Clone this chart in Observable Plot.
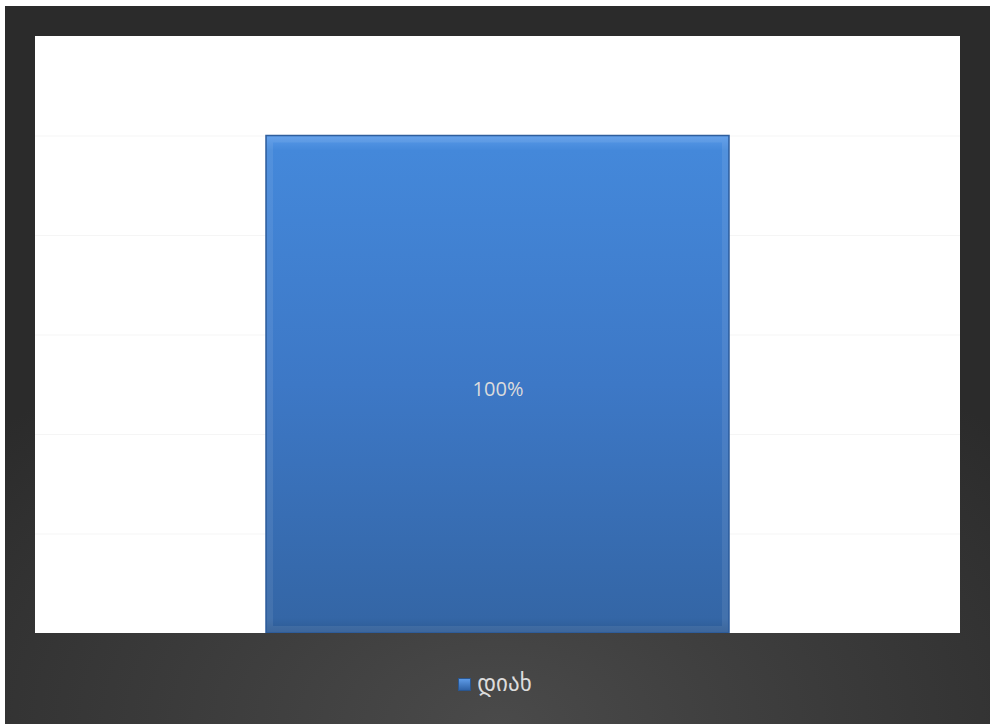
<!DOCTYPE html>
<html>
<head>
<meta charset="utf-8">
<script src="https://cdn.jsdelivr.net/npm/d3@7"></script>
<script src="https://cdn.jsdelivr.net/npm/@observablehq/plot@0.6"></script>
<style>
  html, body { margin: 0; padding: 0; background: #ffffff; width: 990px; height: 724px; overflow: hidden; }
  #frame {
    position: absolute; left: 5px; top: 6px; width: 985px; height: 718px;
    background: radial-gradient(ellipse 70% 60% at 50% 100%, #4a4a4a 0%, #3a3a3a 50%, #2b2b2b 100%);
  }
  #plot { position: absolute; left: 35px; top: 36px; width: 925px; height: 597px; background: #fff; }
  #legend {
    position: absolute; left: 0; width: 990px; top: 670px; text-align: center;
    font-family: "DejaVu Sans", sans-serif; font-size: 23px; color: #dcdcdc;
  }
  #legend .sw {
    display: inline-block; width: 13px; height: 13px; margin-right: 6px; vertical-align: 0px;
    background: linear-gradient(#5d9ae6, #2f63a8); border: 1px solid #2a568f; box-sizing: border-box;
  }
</style>
</head>
<body>
<div id="frame"></div>
<div id="plot"></div>
<div id="legend"></div>
<script>
const categories = [""];
const series = ["დიახ"];
const values = [1.0];
const labels = ["100%"];
const gridTicks = [0.2, 0.4, 0.6, 0.8, 1.0];

const data = categories.map((c, i) => ({cat: c, value: values[i], label: labels[i]}));

const chart = Plot.plot({
  width: 925,
  height: 597,
  marginTop: 0, marginBottom: 0, marginLeft: 0, marginRight: 0,
  style: {background: "#ffffff"},
  x: {domain: categories, paddingInner: 0.5, paddingOuter: 0.25, axis: null},
  y: {domain: [0, 1.2], axis: null},
  marks: [
    Plot.ruleY(gridTicks, {stroke: "#f5f5f5", strokeWidth: 1}),
    Plot.barY(data, {x: "cat", y: "value", fill: "#3f7acb", stroke: "#2f5e9c", strokeWidth: 1.5, className: "mainbar"}),
    Plot.barY(data, {x: "cat", y: "value", fill: "none", stroke: "#ffffff", strokeOpacity: 0.08, strokeWidth: 6, inset: 4}),
    Plot.text(data, {x: "cat", y: d => d.value / 2, text: "label", fill: "#dcdcdc", fontSize: 20, fontFamily: "Open Sans, DejaVu Sans, sans-serif", dy: 5})
  ]
});

const svg = d3.select(chart);
const defs = svg.insert("defs", ":first-child");
const g = defs.append("linearGradient").attr("id", "barGrad").attr("x1", 0).attr("y1", 0).attr("x2", 0).attr("y2", 1);
g.append("stop").attr("offset", "0%").attr("stop-color", "#5a9ae8");
g.append("stop").attr("offset", "3%").attr("stop-color", "#4488da");
g.append("stop").attr("offset", "50%").attr("stop-color", "#3d78c6");
g.append("stop").attr("offset", "97%").attr("stop-color", "#3466a6");
g.append("stop").attr("offset", "100%").attr("stop-color", "#2c5a93");
svg.selectAll(".mainbar rect").attr("fill", "url(#barGrad)");

document.getElementById("plot").appendChild(chart);

const legend = document.getElementById("legend");
series.forEach(s => {
  const sw = document.createElement("span"); sw.className = "sw";
  const t = document.createElement("span"); t.textContent = s;
  legend.appendChild(sw); legend.appendChild(t);
});
</script>
</body>
</html>
